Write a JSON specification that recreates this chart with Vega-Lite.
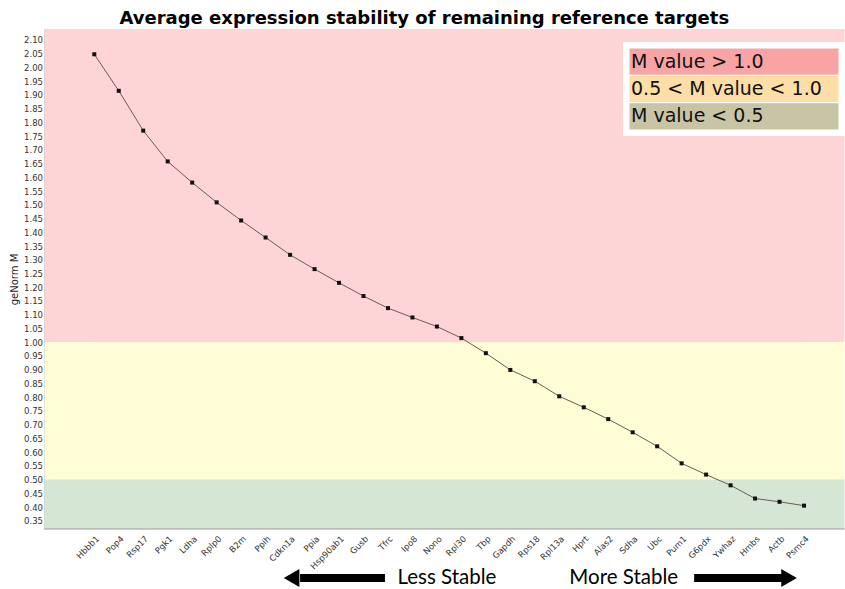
{
  "$schema": "https://vega.github.io/schema/vega-lite/v6.json",
  "width": 800,
  "height": 500,
  "autosize": {"type": "none"},
  "padding": {"left": 44.5, "top": 29, "right": 0, "bottom": 60},
  "background": "white",
  "title": {
    "text": "Average expression stability of remaining reference targets",
    "font": "DejaVu Sans",
    "fontSize": 18,
    "fontWeight": "bold",
    "color": "#000000",
    "anchor": "middle",
    "frame": "bounds",
    "offset": 1,
    "dx": -3
  },
  "config": {
    "view": {"stroke": null},
    "axis": {"labelFont": "DejaVu Sans", "titleFont": "DejaVu Sans"},
    "axisY": {
      "labelOverlap": false,
      "labelFlush": false,
      "labelFontSize": 8.5,
      "labelColor": "#333333",
      "labelPadding": 2,
      "ticks": false,
      "tickCount": 100,
      "domainColor": "#9a9a9a",
      "grid": true,
      "gridColor": "#8a8a8a",
      "gridOpacity": 0.42,
      "gridDash": [2, 2],
      "titleFontSize": 10,
      "titleFontWeight": "normal",
      "titleColor": "#222222",
      "titlePadding": 4,
      "zindex": 1
    },
    "axisX": {
      "labelAngle": -45,
      "labelFontSize": 8.5,
      "labelColor": "#333333",
      "labelPadding": 5,
      "ticks": false,
      "grid": false,
      "domain": false
    }
  },
  "datasets": {
    "genes": [
      {"gene": "Hbbb1", "m": 2.048},
      {"gene": "Pop4", "m": 1.915},
      {"gene": "Rsp17", "m": 1.770},
      {"gene": "Pgk1", "m": 1.658},
      {"gene": "Ldha", "m": 1.581},
      {"gene": "Rplp0", "m": 1.509},
      {"gene": "B2m", "m": 1.443},
      {"gene": "Ppih", "m": 1.381},
      {"gene": "Cdkn1a", "m": 1.318},
      {"gene": "Ppia", "m": 1.266},
      {"gene": "Hsp90ab1", "m": 1.216},
      {"gene": "Gusb", "m": 1.168},
      {"gene": "Tfrc", "m": 1.124},
      {"gene": "Ipo8", "m": 1.090},
      {"gene": "Nono", "m": 1.057},
      {"gene": "Rpl30", "m": 1.015},
      {"gene": "Tbp", "m": 0.960},
      {"gene": "Gapdh", "m": 0.899},
      {"gene": "Rps18", "m": 0.858},
      {"gene": "Rpl13a", "m": 0.803},
      {"gene": "Hprt", "m": 0.763},
      {"gene": "Alas2", "m": 0.720},
      {"gene": "Sdha", "m": 0.672},
      {"gene": "Ubc", "m": 0.621},
      {"gene": "Pum1", "m": 0.559},
      {"gene": "G6pdx", "m": 0.518},
      {"gene": "Ywhaz", "m": 0.479},
      {"gene": "Hmbs", "m": 0.431},
      {"gene": "Actb", "m": 0.419},
      {"gene": "Psmc4", "m": 0.405}
    ],
    "zones": [
      {"zone": "high", "lo": 1.0, "hi": 2.14},
      {"zone": "mid", "lo": 0.5, "hi": 1.0},
      {"zone": "low", "lo": 0.32, "hi": 0.5}
    ],
    "legendRows": [
      {"label": "M value > 1.0"},
      {"label": "0.5 < M value < 1.0"},
      {"label": "M value < 0.5"}
    ],
    "less": [{"label": "Less Stable"}],
    "more": [{"label": "More Stable"}]
  },
  "layer": [
    {
      "layer": [
        {
          "data": {"name": "zones"},
          "mark": {"type": "rect"},
          "encoding": {
            "y": {
              "field": "lo",
              "type": "quantitative",
              "scale": {"domain": [0.32, 2.14], "nice": false, "zero": false},
              "axis": {
                "title": "geNorm M",
                "values": [0.35, 0.4, 0.45, 0.5, 0.55, 0.6, 0.65, 0.7, 0.75, 0.8, 0.85, 0.9, 0.95, 1.0, 1.05, 1.1, 1.15, 1.2, 1.25, 1.3, 1.35, 1.4, 1.45, 1.5, 1.55, 1.6, 1.65, 1.7, 1.75, 1.8, 1.85, 1.9, 1.95, 2.0, 2.05, 2.1],
                "tickCount": 100,
                "format": ".2f",
                "labelOverlap": false
              }
            },
            "y2": {"field": "hi"},
            "fill": {
              "field": "zone",
              "type": "nominal",
              "scale": {"domain": ["high", "mid", "low"], "range": ["#FED5D6", "#FEFDD6", "#D5E6D4"]},
              "legend": null
            }
          }
        },
        {
          "data": {"name": "less"},
          "mark": {"type": "rule", "color": "#9a9a9a", "strokeWidth": 1},
          "encoding": {
            "y": {"datum": 0.32, "type": "quantitative"}
          }
        },
        {
          "data": {"name": "genes"},
          "mark": {"type": "line", "color": "#6b5a5a", "strokeWidth": 1},
          "encoding": {
            "x": {
              "field": "gene",
              "type": "nominal",
              "sort": null,
              "scale": {
                "type": "point",
                "padding": 0,
                "range": [49.8, 759.5],
                "domain": ["Hbbb1", "Pop4", "Rsp17", "Pgk1", "Ldha", "Rplp0", "B2m", "Ppih", "Cdkn1a", "Ppia", "Hsp90ab1", "Gusb", "Tfrc", "Ipo8", "Nono", "Rpl30", "Tbp", "Gapdh", "Rps18", "Rpl13a", "Hprt", "Alas2", "Sdha", "Ubc", "Pum1", "G6pdx", "Ywhaz", "Hmbs", "Actb", "Psmc4"]
              },
              "axis": {"title": null}
            },
            "y": {"field": "m", "type": "quantitative", "title": "geNorm M"}
          }
        },
        {
          "data": {"name": "genes"},
          "mark": {"type": "point", "shape": "square", "size": 16, "filled": true, "color": "#111111", "opacity": 1},
          "encoding": {
            "x": {"field": "gene", "type": "nominal", "sort": null, "title": null},
            "y": {"field": "m", "type": "quantitative", "title": "geNorm M"}
          }
        },
        {
          "data": {"name": "less"},
          "mark": {"type": "text", "font": "Lato", "fontSize": 20.5, "color": "#000000", "align": "center", "baseline": "middle", "dx": 10},
          "encoding": {
            "x": {"datum": "Nono", "type": "nominal", "scale": {"type": "point"}},
            "y": {"datum": 0.1415, "type": "quantitative"},
            "text": {"field": "label"}
          }
        },
        {
          "data": {"name": "more"},
          "mark": {"type": "text", "font": "Lato", "fontSize": 20.5, "color": "#000000", "align": "center", "baseline": "middle", "dx": -9},
          "encoding": {
            "x": {"datum": "Sdha", "type": "nominal", "scale": {"type": "point"}},
            "y": {"datum": 0.1415, "type": "quantitative"},
            "text": {"field": "label"}
          }
        },
        {
          "data": {"name": "less"},
          "mark": {"type": "rule", "color": "#000000", "strokeWidth": 8, "xOffset": 10, "x2Offset": -3},
          "encoding": {
            "x": {"datum": "Cdkn1a", "type": "nominal", "scale": {"type": "point"}},
            "x2": {"datum": "Tfrc"},
            "y": {"datum": 0.1415, "type": "quantitative"}
          }
        },
        {
          "data": {"name": "less"},
          "mark": {"type": "point", "shape": "triangle-left", "size": 324, "filled": true, "color": "#000000", "opacity": 1, "xOffset": 1.5},
          "encoding": {
            "x": {"datum": "Cdkn1a", "type": "nominal", "scale": {"type": "point"}},
            "y": {"datum": 0.1415, "type": "quantitative"}
          }
        },
        {
          "data": {"name": "more"},
          "mark": {"type": "rule", "color": "#000000", "strokeWidth": 8, "xOffset": -12, "x2Offset": 27},
          "encoding": {
            "x": {"datum": "G6pdx", "type": "nominal", "scale": {"type": "point"}},
            "x2": {"datum": "Hmbs"},
            "y": {"datum": 0.1415, "type": "quantitative"}
          }
        },
        {
          "data": {"name": "more"},
          "mark": {"type": "point", "shape": "triangle-right", "size": 324, "filled": true, "color": "#000000", "opacity": 1, "xOffset": 9.5},
          "encoding": {
            "x": {"datum": "Actb", "type": "nominal", "scale": {"type": "point"}},
            "y": {"datum": 0.1415, "type": "quantitative"}
          }
        }
      ]
    },
    {
      "data": {"name": "legendRows"},
      "encoding": {
        "x": {"datum": "legend", "type": "nominal", "scale": {"type": "band", "range": [584.5, 794.5], "paddingInner": 0, "paddingOuter": 0}, "axis": null},
        "y": {
          "field": "label",
          "type": "nominal",
          "sort": null,
          "scale": {"domain": ["M value > 1.0", "0.5 < M value < 1.0", "M value < 0.5"], "range": [19, 101], "paddingInner": 0, "paddingOuter": 0},
          "axis": null
        }
      },
      "layer": [
        {"mark": {"type": "rect", "fill": "#FFFFFF", "stroke": "#FFFFFF", "strokeWidth": 12}},
        {
          "mark": {"type": "rect", "stroke": "#FFFFFF", "strokeWidth": 1},
          "encoding": {
            "fill": {
              "field": "label",
              "type": "nominal",
              "scale": {"domain": ["M value > 1.0", "0.5 < M value < 1.0", "M value < 0.5"], "range": ["#F9A4A4", "#FDDEA6", "#C8C5A6"]},
              "legend": null
            }
          }
        },
        {
          "mark": {"type": "text", "font": "DejaVu Sans", "fontSize": 19, "color": "#111111", "align": "left", "baseline": "middle", "dx": 2},
          "encoding": {
            "x": {"datum": "legend", "type": "nominal", "bandPosition": 0},
            "text": {"field": "label"}
          }
        }
      ]
    }
  ],
  "resolve": {"scale": {"x": "independent", "y": "independent", "fill": "independent"}}
}
